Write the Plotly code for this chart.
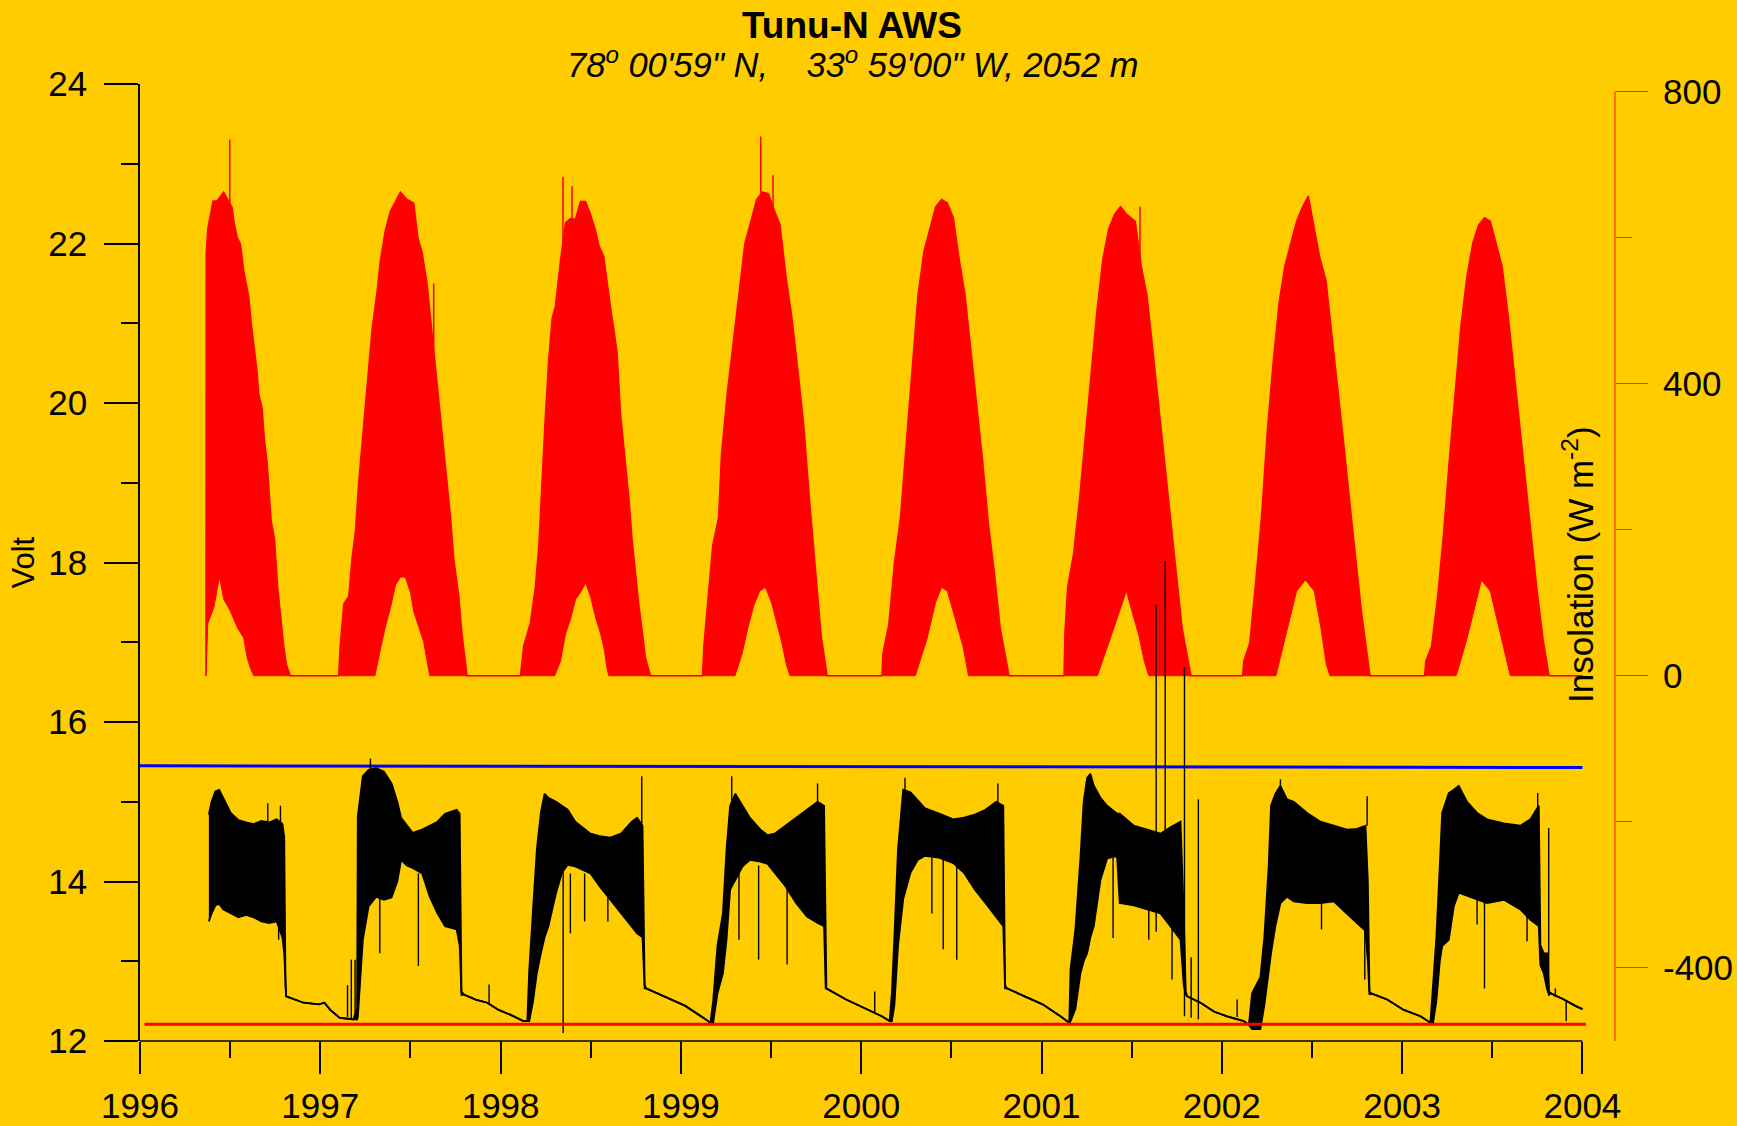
import plotly.graph_objects as go

# ---------------- data ----------------
YEARS = [1996, 1997, 1998, 1999, 2000, 2001, 2002, 2003, 2004]
HALF_YEARS = [1996.5, 1997.5, 1998.5, 1999.5, 2000.5, 2001.5, 2002.5, 2003.5]

# Insolation: daily-maximum envelope (W m-2)
ins_up_t = [
    1996.366, 1996.367, 1996.376, 1996.405, 1996.427, 1996.464, 1996.511, 1996.520, 1996.539, 1996.557,
    1996.575, 1996.603, 1996.616, 1996.631, 1996.649, 1996.659, 1996.677, 1996.690, 1996.705, 1996.727,
    1996.746, 1996.764, 1996.779, 1996.797, 1996.812, 1996.834,
    1997.102, 1997.110, 1997.130, 1997.158, 1997.176, 1997.195, 1997.213, 1997.232, 1997.250, 1997.269,
    1997.287, 1997.315, 1997.333, 1997.361, 1997.389, 1997.417, 1997.444, 1997.481, 1997.518, 1997.541,
    1997.565, 1997.592, 1997.615, 1997.639, 1997.666, 1997.685, 1997.703, 1997.722, 1997.740, 1997.768,
    1997.786, 1997.814,
    1998.110, 1998.128, 1998.165, 1998.193, 1998.212, 1998.230, 1998.249, 1998.267, 1998.286, 1998.304,
    1998.332, 1998.360, 1998.387, 1998.415, 1998.443, 1998.471, 1998.498, 1998.526, 1998.545, 1998.572,
    1998.591, 1998.609, 1998.628, 1998.646, 1998.665, 1998.683, 1998.711, 1998.729, 1998.748, 1998.766,
    1998.785, 1998.803, 1998.831,
    1999.120, 1999.127, 1999.144, 1999.176, 1999.209, 1999.225, 1999.258, 1999.290, 1999.323, 1999.355,
    1999.388, 1999.420, 1999.453, 1999.485, 1999.518, 1999.550, 1999.583, 1999.616, 1999.648, 1999.681,
    1999.713, 1999.746, 1999.778, 1999.811,
    2000.115, 2000.120, 2000.153, 2000.185, 2000.218, 2000.250, 2000.283, 2000.315, 2000.348, 2000.381,
    2000.413, 2000.446, 2000.478, 2000.511, 2000.543, 2000.576, 2000.608, 2000.641, 2000.674, 2000.706,
    2000.739, 2000.771, 2000.820,
    2001.125, 2001.130, 2001.145, 2001.178, 2001.211, 2001.243, 2001.276, 2001.308, 2001.341, 2001.373,
    2001.406, 2001.438, 2001.471, 2001.520, 2001.553, 2001.585, 2001.618, 2001.650, 2001.683, 2001.715,
    2001.748, 2001.780, 2001.829,
    2002.115, 2002.122, 2002.155, 2002.187, 2002.220, 2002.252, 2002.285, 2002.318, 2002.350, 2002.383,
    2002.415, 2002.448, 2002.480, 2002.513, 2002.545, 2002.578, 2002.610, 2002.643, 2002.676, 2002.708,
    2002.741, 2002.773, 2002.822,
    2003.125, 2003.131, 2003.163, 2003.196, 2003.229, 2003.261, 2003.294, 2003.327, 2003.359, 2003.392,
    2003.424, 2003.457, 2003.489, 2003.522, 2003.554, 2003.587, 2003.619, 2003.652, 2003.684, 2003.717,
    2003.749, 2003.782, 2003.815,
    2004.000,
]
ins_up = [
    0, 576, 612, 650, 650, 662, 641, 623, 600, 591,
    555, 519, 485, 453, 417, 385, 367, 323, 292, 213,
    187, 120, 83, 41, 15, 0,
    0, 40, 98, 109, 161, 198, 265, 318, 365, 422,
    474, 526, 568, 610, 636, 649, 662, 652, 647, 600,
    579, 537, 480, 427, 354, 312, 265, 218, 161, 109,
    57, 0,
    0, 41, 72, 122, 178, 271, 360, 433, 490, 506,
    568, 620, 626, 625, 649, 649, 632, 610, 589, 574,
    537, 506, 474, 443, 359, 318, 245, 187, 140, 98,
    62, 25, 0,
    0, 40, 90, 177, 217, 303, 389, 455, 531, 592,
    622, 652, 662, 660, 637, 617, 546, 490, 420, 344,
    242, 141, 55, 0,
    0, 30, 70, 156, 217, 318, 420, 521, 581, 612,
    642, 652, 647, 627, 571, 521, 445, 369, 293, 207,
    141, 65, 0,
    0, 60, 121, 167, 242, 328, 420, 501, 571, 612,
    632, 642, 632, 622, 561, 521, 445, 369, 293, 217,
    141, 65, 0,
    0, 20, 45, 126, 217, 334, 430, 511, 561, 592,
    622, 642, 657, 612, 571, 541, 470, 394, 318, 242,
    167, 91, 0,
    0, 20, 40, 106, 192, 293, 389, 480, 546, 592,
    617, 627, 622, 592, 561, 496, 420, 344, 268, 192,
    116, 50, 0,
    0,
]

# Insolation: daily-minimum envelope (W m-2), non-zero only around midsummer
ins_low_t = [
    1996.366, 1996.376, 1996.409, 1996.441, 1996.464, 1996.502, 1996.542, 1996.575, 1996.594, 1996.613, 1996.631,
    1997.303, 1997.333, 1997.361, 1997.389, 1997.417, 1997.444, 1997.472, 1997.500, 1997.518, 1997.546, 1997.574, 1997.592, 1997.607,
    1998.300, 1998.332, 1998.360, 1998.387, 1998.415, 1998.443, 1998.471, 1998.498, 1998.530, 1998.555, 1998.575, 1998.590, 1998.600,
    1999.300, 1999.339, 1999.371, 1999.404, 1999.437, 1999.469, 1999.502, 1999.534, 1999.560, 1999.585, 1999.605,
    2000.300, 2000.364, 2000.413, 2000.446, 2000.478, 2000.527, 2000.565, 2000.595,
    2001.310, 2001.373, 2001.422, 2001.471, 2001.504, 2001.540, 2001.570, 2001.595,
    2002.300, 2002.366, 2002.415, 2002.464, 2002.513, 2002.550, 2002.580, 2002.600,
    2003.300, 2003.359, 2003.408, 2003.440, 2003.489, 2003.538, 2003.575, 2003.600,
    2004.000,
]
ins_low = [
    0, 72, 93, 135, 105, 88, 65, 52, 25, 10, 0,
    0, 36, 67, 93, 124, 135, 135, 114, 88, 67, 46, 20, 0,
    0, 20, 57, 77, 104, 114, 127, 109, 77, 57, 36, 10, 0,
    0, 30, 65, 96, 116, 121, 101, 70, 45, 15, 0,
    0, 50, 101, 121, 116, 75, 40, 0,
    0, 45, 81, 116, 86, 55, 20, 0,
    0, 65, 116, 131, 116, 65, 15, 0,
    0, 50, 101, 131, 116, 65, 25, 0,
    0,
]

# Isolated insolation spikes: time, bottom, top (W m-2)
ins_spike_t = [1996.498, 1997.629, 1998.346, 1998.396, 1999.443, 1999.511, 2001.546]
ins_spike_lo = [640, 430, 590, 620, 660, 640, 560]
ins_spike_hi = [734, 537, 683, 670, 738, 685, 642]

# Battery voltage: daily envelope (V)
volt_t = [
    1996.382, 1996.397, 1996.418, 1996.439, 1996.461, 1996.503, 1996.546, 1996.588, 1996.631, 1996.673,
    1996.716, 1996.758, 1996.790, 1996.800, 1996.807,
    1996.811, 1996.907, 1996.992, 1997.023, 1997.055, 1997.108, 1997.183,
    1997.204, 1997.208, 1997.236, 1997.268, 1997.310, 1997.352, 1997.395, 1997.427, 1997.448, 1997.480,
    1997.512, 1997.565, 1997.607, 1997.650, 1997.692, 1997.756, 1997.773, 1997.783,
    1997.798, 1997.862, 1997.926, 1997.989, 1998.053, 1998.127, 1998.148,
    1998.159, 1998.180, 1998.201, 1998.223, 1998.244, 1998.265, 1998.308, 1998.340, 1998.372, 1998.414,
    1998.499, 1998.549, 1998.609, 1998.668, 1998.728, 1998.757, 1998.787, 1998.799,
    1998.807, 1998.926, 1999.025, 1999.124, 1999.164,
    1999.179, 1999.203, 1999.233, 1999.253, 1999.273, 1999.302, 1999.342, 1999.382, 1999.441, 1999.481,
    1999.520, 1999.580, 1999.639, 1999.699, 1999.758, 1999.794, 1999.803,
    1999.807, 1999.916, 2000.015, 2000.114, 2000.158,
    2000.170, 2000.184, 2000.204, 2000.233, 2000.273, 2000.313, 2000.352, 2000.432, 2000.511, 2000.570,
    2000.630, 2000.689, 2000.749, 2000.788, 2000.798,
    2000.808, 2000.907, 2001.006, 2001.105, 2001.154,
    2001.161, 2001.188, 2001.216, 2001.234, 2001.253, 2001.271, 2001.290, 2001.327, 2001.364, 2001.419,
    2001.434, 2001.512, 2001.586, 2001.660, 2001.715, 2001.771, 2001.789, 2001.800,
    2001.808, 2001.882, 2001.956, 2002.029, 2002.122, 2002.150,
    2002.168, 2002.214, 2002.236, 2002.260, 2002.273, 2002.297, 2002.325, 2002.362, 2002.399, 2002.473,
    2002.547, 2002.621, 2002.695, 2002.750, 2002.797, 2002.810, 2002.819,
    2002.825, 2002.917, 2003.009, 2003.102, 2003.157,
    2003.172, 2003.190, 2003.209, 2003.222, 2003.259, 2003.287, 2003.314, 2003.360, 2003.416, 2003.471,
    2003.564, 2003.656, 2003.712, 2003.758, 2003.767, 2003.786, 2003.804, 2003.815,
    2003.823, 2003.897, 2003.961, 2004.000,
]
volt_hi = [
    14.84, 15.00, 15.13, 15.15, 15.05, 14.86, 14.77, 14.74, 14.72, 14.76,
    14.74, 14.78, 14.72, 14.55, 12.70,
    12.56, 12.48, 12.46, 12.48, 12.39, 12.29, 12.27,
    12.40, 14.82, 15.32, 15.40, 15.42, 15.38, 15.23, 15.00, 14.80, 14.70,
    14.61, 14.65, 14.70, 14.75, 14.85, 14.90, 14.85, 12.62,
    12.58, 12.52, 12.48, 12.39, 12.33, 12.25, 12.25,
    12.90, 13.65, 14.40, 14.86, 15.10, 15.05, 15.00, 14.95, 14.90, 14.75,
    14.60, 14.57, 14.55, 14.60, 14.75, 14.80, 14.70, 12.70,
    12.66, 12.54, 12.44, 12.29, 12.23,
    12.50, 13.20, 13.60, 14.40, 14.95, 15.10, 14.95, 14.80, 14.65, 14.58,
    14.60, 14.70, 14.80, 14.90, 15.00, 14.95, 12.70,
    12.66, 12.52, 12.41, 12.31, 12.25,
    12.60, 13.30, 14.40, 15.15, 15.12, 15.02, 14.92, 14.85, 14.78, 14.80,
    14.84, 14.90, 15.00, 14.95, 12.70,
    12.66, 12.56, 12.46, 12.31, 12.23,
    12.90, 13.40, 14.30, 15.00, 15.30, 15.35, 15.20, 15.05, 14.95, 14.85,
    14.85, 14.70, 14.65, 14.60, 14.68, 14.75, 13.60, 12.62,
    12.56, 12.48, 12.37, 12.31, 12.25, 12.20,
    12.60, 12.80, 13.30, 14.20, 14.95, 15.10, 15.20, 15.03, 15.00, 14.86,
    14.75, 14.70, 14.65, 14.66, 14.70, 14.00, 12.62,
    12.60, 12.52, 12.39, 12.31, 12.23,
    12.70, 13.30, 14.20, 14.86, 15.11, 15.15, 15.20, 15.00, 14.86, 14.78,
    14.73, 14.70, 14.78, 14.95, 13.20, 13.10, 13.10, 12.62,
    12.60, 12.52, 12.44, 12.40,
]
volt_lo = [
    13.50, 13.60, 13.70, 13.72, 13.65, 13.60, 13.55, 13.58, 13.55, 13.50,
    13.48, 13.50, 13.30, 13.10, 12.56,
    12.56, 12.48, 12.46, 12.48, 12.39, 12.29, 12.27,
    12.27, 12.30, 13.27, 13.69, 13.81, 13.77, 13.80, 14.00, 14.27, 14.20,
    14.17, 14.10, 13.81, 13.60, 13.44, 13.40, 13.20, 12.58,
    12.58, 12.52, 12.48, 12.39, 12.33, 12.25, 12.25,
    12.25, 12.50, 12.85, 13.10, 13.30, 13.44, 13.86, 14.11, 14.21, 14.19,
    14.10, 13.94, 13.77, 13.60, 13.44, 13.35, 13.30, 12.66,
    12.66, 12.54, 12.44, 12.29, 12.23,
    12.23, 12.60, 12.85, 13.27, 13.90, 14.02, 14.19, 14.27, 14.25, 14.22,
    14.11, 13.94, 13.73, 13.56, 13.48, 13.44, 12.66,
    12.66, 12.52, 12.41, 12.31, 12.25,
    12.25, 12.45, 13.19, 13.78, 14.11, 14.27, 14.32, 14.30, 14.23, 14.11,
    13.90, 13.73, 13.56, 13.44, 12.66,
    12.66, 12.56, 12.46, 12.31, 12.23,
    12.25, 12.40, 12.85, 13.00, 13.10, 13.30, 13.44, 14.02, 14.29, 14.32,
    13.73, 13.70, 13.65, 13.60, 13.44, 13.27, 12.70, 12.58,
    12.56, 12.48, 12.37, 12.31, 12.25, 12.20,
    12.15, 12.15, 12.45, 12.90, 13.10, 13.44, 13.73, 13.81, 13.75, 13.73,
    13.73, 13.75, 13.60, 13.48, 13.38, 13.00, 12.58,
    12.60, 12.52, 12.39, 12.31, 12.23,
    12.23, 12.50, 13.00, 13.19, 13.27, 13.69, 13.86, 13.82, 13.78, 13.73,
    13.77, 13.65, 13.52, 13.44, 12.95, 12.85, 12.65, 12.58,
    12.60, 12.52, 12.44, 12.40,
]

# Isolated voltage spikes: time, bottom, top (V)
volt_spike_t = [
    1996.709, 1996.769, 1996.779, 1997.151, 1997.172, 1997.193, 1997.278, 1997.330, 1997.544, 1997.936,
    1998.347, 1998.387, 1998.466, 1998.595, 1998.783, 1999.282, 1999.322, 1999.431, 1999.589, 1999.758,
    2000.075, 2000.243, 2000.392, 2000.455, 2000.530, 2000.758, 2001.397, 2001.595, 2001.636, 2001.686,
    2001.724, 2001.793, 2001.830, 2001.870, 2002.085, 2002.325, 2002.553, 2002.793, 2002.806, 2003.416,
    2003.457, 2003.693, 2003.752, 2003.813, 2003.850, 2003.910,
]
volt_spike_lo = [
    14.70, 13.27, 14.70, 12.30, 12.28, 12.28, 15.30, 13.10, 12.94, 12.47,
    12.10, 13.35, 13.50, 13.50, 14.70, 14.90, 13.27, 13.02, 12.96, 14.95,
    12.35, 15.00, 13.60, 13.15, 13.02, 14.90, 13.29, 13.27, 13.37, 13.90,
    12.77, 12.31, 12.29, 12.27, 12.30, 15.10, 13.40, 12.77, 14.70, 13.46,
    12.66, 13.25, 14.90, 12.60, 12.55, 12.25,
]
volt_spike_hi = [
    14.98, 13.60, 14.95, 12.70, 13.02, 13.02, 15.54, 13.80, 14.10, 12.71,
    14.20, 14.10, 14.10, 13.80, 15.32, 15.32, 14.10, 14.20, 13.90, 15.23,
    12.62, 15.30, 14.30, 14.30, 14.20, 15.23, 14.30, 13.65, 17.47, 18.02,
    13.44, 16.69, 13.05, 15.03, 12.52, 15.28, 13.73, 13.40, 15.07, 13.78,
    13.73, 13.65, 15.11, 14.67, 12.66, 12.50,
]

# Reference levels (V)
blue_t = [1996.0, 2004.0]
blue_v = [15.45, 15.43]
red_t = [1996.025, 2004.02]
red_v = [12.21, 12.21]

VOLT_TICKS = [12, 14, 16, 18, 20, 22, 24]
VOLT_MINOR = [13, 15, 17, 19, 21, 23]
INS_TICKS = [-400, 0, 400, 800]
INS_TICKTEXT = ["-400", "0", "400", "800"]
INS_MINOR = [-200, 200, 600]


def segments(t, lo, hi):
    xs, ys = [], []
    for a, b, c in zip(t, lo, hi):
        xs += [a, a, None]
        ys += [b, c, None]
    return xs, ys


FONT = "Liberation Sans, Arial, sans-serif"
BG = "#FFCC00"
AXRED = "#FF3300"

fig = go.Figure()

# insolation (primary y axis, right side)
fig.add_trace(go.Scatter(x=ins_low_t, y=ins_low, mode="lines",
                         line=dict(color="#FF0000", width=1), yaxis="y", hoverinfo="skip"))
fig.add_trace(go.Scatter(x=ins_up_t, y=ins_up, mode="lines", fill="tonexty",
                         fillcolor="#FF0000", line=dict(color="#FF0000", width=1.5),
                         yaxis="y", hoverinfo="skip"))
sx, sy = segments(ins_spike_t, ins_spike_lo, ins_spike_hi)
fig.add_trace(go.Scatter(x=sx, y=sy, mode="lines", line=dict(color="#FF0000", width=1.5),
                         yaxis="y", hoverinfo="skip"))

# voltage (overlaying y axis, left side)
fig.add_trace(go.Scatter(x=blue_t, y=blue_v, mode="lines", line=dict(color="#0000FF", width=3),
                         yaxis="y2", hoverinfo="skip"))
fig.add_trace(go.Scatter(x=volt_t, y=volt_lo, mode="lines", line=dict(color="black", width=1.8),
                         yaxis="y2", hoverinfo="skip"))
fig.add_trace(go.Scatter(x=volt_t, y=volt_hi, mode="lines", fill="tonexty", fillcolor="black",
                         line=dict(color="black", width=1.8), yaxis="y2", hoverinfo="skip"))
vx, vy = segments(volt_spike_t, volt_spike_lo, volt_spike_hi)
fig.add_trace(go.Scatter(x=vx, y=vy, mode="lines", line=dict(color="black", width=1.4),
                         yaxis="y2", hoverinfo="skip"))
fig.add_trace(go.Scatter(x=red_t, y=red_v, mode="lines", line=dict(color="#FF0000", width=3),
                         yaxis="y2", hoverinfo="skip"))

L, R, T, B = 140, 122, 84, 85
W, H = 1737, 1126
pw = W - L - R
ph = H - T - B
xmax = 1996 + pw / 180.3

fig.update_layout(
    width=W, height=H, autosize=False,
    paper_bgcolor=BG, plot_bgcolor=BG,
    margin=dict(l=L, r=R, t=T, b=B, pad=0, autoexpand=False),
    showlegend=False,
    font=dict(family=FONT, color="black", size=35),
    xaxis=dict(
        range=[1996, xmax], tickmode="array", tickvals=YEARS,
        ticktext=[str(y) for y in YEARS], automargin=False,
        ticks="outside", ticklen=32, tickwidth=1.5, tickcolor="black",
        showline=False, showgrid=False, zeroline=False,
        tickfont=dict(family=FONT, size=35, color="black"),
        ticklabelstandoff=2,
        minor=dict(tickmode="array", tickvals=HALF_YEARS, ticks="outside",
                   ticklen=16, tickwidth=1.5, tickcolor="black", showgrid=False),
    ),
    yaxis=dict(
        side="right", range=[-500, 810], tickmode="array", tickvals=INS_TICKS,
        ticktext=INS_TICKTEXT, automargin=False,
        ticks="outside", ticklen=32, tickwidth=1.2, tickcolor=AXRED,
        showline=False, showgrid=False, zeroline=False,
        tickfont=dict(family=FONT, size=35, color="black"),
        ticklabelstandoff=8,
        minor=dict(tickmode="array", tickvals=INS_MINOR, ticks="outside",
                   ticklen=16, tickwidth=1.2, tickcolor=AXRED, showgrid=False),
    ),
    yaxis2=dict(
        overlaying="y", side="left", range=[12, 24], tickmode="array", tickvals=VOLT_TICKS,
        automargin=False,
        ticks="outside", ticklen=34, tickwidth=1.5, tickcolor="black",
        showline=True, linecolor="black", linewidth=1.5,
        showgrid=False, zeroline=False,
        tickfont=dict(family=FONT, size=35, color="black"),
        ticklabelstandoff=10,
        minor=dict(tickmode="array", tickvals=VOLT_MINOR, ticks="outside",
                   ticklen=17, tickwidth=1.5, tickcolor="black", showgrid=False),
    ),
    shapes=[
        dict(type="line", xref="x", yref="paper", x0=1996, x1=2004, y0=0, y1=0,
             line=dict(color="black", width=1.5), layer="above"),
        dict(type="line", xref="paper", yref="y", x0=1, x1=1, y0=-500, y1=800,
             line=dict(color=AXRED, width=1.2), layer="above"),
    ],
    annotations=[
        dict(text="<b>Tunu-N AWS</b>", xref="paper", yref="paper",
             x=(852 - L) / pw, y=1 + (T - 25.0) / ph, xanchor="center", yanchor="middle",
             showarrow=False, font=dict(family=FONT, size=37, color="black")),
        dict(text="<i>78<sup>o</sup> 00'59\" N,\u00a0\u00a0\u00a0 33<sup>o</sup> 59'00\" W, 2052 m</i>",
             xref="paper", yref="paper",
             x=(853 - L) / pw, y=1 + (T - 62.0) / ph, xanchor="center", yanchor="middle",
             showarrow=False, font=dict(family=FONT, size=34.5, color="black")),
        dict(text="Volt", xref="paper", yref="paper", x=(23 - L) / pw, y=0.5,
             xanchor="center", yanchor="middle", textangle=-90, showarrow=False,
             font=dict(family=FONT, size=31, color="black")),
        dict(text="Insolation (W m<sup>-2</sup>)", xref="paper", yref="paper",
             x=(1578 - L) / pw, y=(H - B - 565) / ph,
             xanchor="center", yanchor="middle", textangle=-90, showarrow=False,
             font=dict(family=FONT, size=35, color="black")),
    ],
)

fig.write_html(
    "out.html",
    config={"displayModeBar": False},
    post_script="document.body.style.margin='0';document.body.style.overflow='hidden';",
)
